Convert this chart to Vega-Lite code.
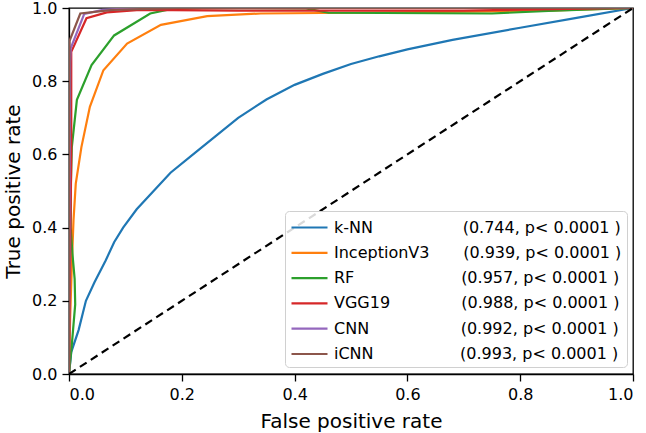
{
  "$schema": "https://vega.github.io/schema/vega-lite/v6.json",
  "autosize": "none",
  "width": 564,
  "height": 366,
  "padding": {"left": 69, "top": 8, "right": 13, "bottom": 59},
  "background": "white",
  "config": {
    "font": "DejaVu Sans",
    "view": {"stroke": "black", "strokeWidth": 1.3},
    "axis": {
      "grid": false,
      "domainColor": "black",
      "domainWidth": 1.3,
      "tickColor": "black",
      "tickWidth": 1.3,
      "tickSize": 7,
      "labelFont": "DejaVu Sans",
      "labelFontSize": 16,
      "labelColor": "black",
      "labelPadding": 5,
      "titleFont": "DejaVu Sans",
      "titleFontSize": 20,
      "titleFontWeight": "normal",
      "titleColor": "black"
    }
  },
  "datasets": {
    "roc": [
      {"model": "k-NN", "i": 0, "fpr": 0, "tpr": 0},
      {"model": "k-NN", "i": 1, "fpr": 0.004, "tpr": 0.06},
      {"model": "k-NN", "i": 2, "fpr": 0.017, "tpr": 0.12},
      {"model": "k-NN", "i": 3, "fpr": 0.03, "tpr": 0.2},
      {"model": "k-NN", "i": 4, "fpr": 0.045, "tpr": 0.25},
      {"model": "k-NN", "i": 5, "fpr": 0.065, "tpr": 0.31},
      {"model": "k-NN", "i": 6, "fpr": 0.08, "tpr": 0.36},
      {"model": "k-NN", "i": 7, "fpr": 0.096, "tpr": 0.4},
      {"model": "k-NN", "i": 8, "fpr": 0.12, "tpr": 0.45},
      {"model": "k-NN", "i": 9, "fpr": 0.15, "tpr": 0.5},
      {"model": "k-NN", "i": 10, "fpr": 0.18, "tpr": 0.55},
      {"model": "k-NN", "i": 11, "fpr": 0.22, "tpr": 0.6},
      {"model": "k-NN", "i": 12, "fpr": 0.26, "tpr": 0.65},
      {"model": "k-NN", "i": 13, "fpr": 0.3, "tpr": 0.7},
      {"model": "k-NN", "i": 14, "fpr": 0.35, "tpr": 0.75},
      {"model": "k-NN", "i": 15, "fpr": 0.4, "tpr": 0.79},
      {"model": "k-NN", "i": 16, "fpr": 0.45, "tpr": 0.82},
      {"model": "k-NN", "i": 17, "fpr": 0.5, "tpr": 0.847},
      {"model": "k-NN", "i": 18, "fpr": 0.55, "tpr": 0.868},
      {"model": "k-NN", "i": 19, "fpr": 0.6, "tpr": 0.887},
      {"model": "k-NN", "i": 20, "fpr": 0.68, "tpr": 0.913},
      {"model": "k-NN", "i": 21, "fpr": 0.8, "tpr": 0.946},
      {"model": "k-NN", "i": 22, "fpr": 0.9, "tpr": 0.973},
      {"model": "k-NN", "i": 23, "fpr": 1, "tpr": 1},

      {"model": "InceptionV3", "i": 0, "fpr": 0, "tpr": 0},
      {"model": "InceptionV3", "i": 1, "fpr": 0.002, "tpr": 0.15},
      {"model": "InceptionV3", "i": 2, "fpr": 0.005, "tpr": 0.3},
      {"model": "InceptionV3", "i": 3, "fpr": 0.008, "tpr": 0.42},
      {"model": "InceptionV3", "i": 4, "fpr": 0.012, "tpr": 0.52},
      {"model": "InceptionV3", "i": 5, "fpr": 0.022, "tpr": 0.62},
      {"model": "InceptionV3", "i": 6, "fpr": 0.037, "tpr": 0.73},
      {"model": "InceptionV3", "i": 7, "fpr": 0.061, "tpr": 0.83},
      {"model": "InceptionV3", "i": 8, "fpr": 0.103, "tpr": 0.903},
      {"model": "InceptionV3", "i": 9, "fpr": 0.163, "tpr": 0.954},
      {"model": "InceptionV3", "i": 10, "fpr": 0.245, "tpr": 0.978},
      {"model": "InceptionV3", "i": 11, "fpr": 0.34, "tpr": 0.985},
      {"model": "InceptionV3", "i": 12, "fpr": 0.5, "tpr": 0.987},
      {"model": "InceptionV3", "i": 13, "fpr": 0.7, "tpr": 0.99},
      {"model": "InceptionV3", "i": 14, "fpr": 0.85, "tpr": 0.993},
      {"model": "InceptionV3", "i": 15, "fpr": 1, "tpr": 1},

      {"model": "RF", "i": 0, "fpr": 0, "tpr": 0},
      {"model": "RF", "i": 1, "fpr": 0.005, "tpr": 0.08},
      {"model": "RF", "i": 2, "fpr": 0.011, "tpr": 0.19},
      {"model": "RF", "i": 3, "fpr": 0.01, "tpr": 0.26},
      {"model": "RF", "i": 4, "fpr": 0.006, "tpr": 0.33},
      {"model": "RF", "i": 5, "fpr": 0.003, "tpr": 0.4},
      {"model": "RF", "i": 6, "fpr": 0.003, "tpr": 0.5},
      {"model": "RF", "i": 7, "fpr": 0.005, "tpr": 0.62},
      {"model": "RF", "i": 8, "fpr": 0.014, "tpr": 0.749},
      {"model": "RF", "i": 9, "fpr": 0.04, "tpr": 0.844},
      {"model": "RF", "i": 10, "fpr": 0.08, "tpr": 0.925},
      {"model": "RF", "i": 11, "fpr": 0.144, "tpr": 0.985},
      {"model": "RF", "i": 12, "fpr": 0.18, "tpr": 0.997},
      {"model": "RF", "i": 13, "fpr": 0.25, "tpr": 1.0},
      {"model": "RF", "i": 14, "fpr": 0.42, "tpr": 0.999},
      {"model": "RF", "i": 15, "fpr": 0.46, "tpr": 0.987},
      {"model": "RF", "i": 16, "fpr": 0.75, "tpr": 0.985},
      {"model": "RF", "i": 17, "fpr": 0.85, "tpr": 0.992},
      {"model": "RF", "i": 18, "fpr": 1, "tpr": 1},

      {"model": "VGG19", "i": 0, "fpr": 0, "tpr": 0},
      {"model": "VGG19", "i": 1, "fpr": 0.002, "tpr": 0.3},
      {"model": "VGG19", "i": 2, "fpr": 0.004, "tpr": 0.6},
      {"model": "VGG19", "i": 3, "fpr": 0.004, "tpr": 0.88},
      {"model": "VGG19", "i": 4, "fpr": 0.031, "tpr": 0.972},
      {"model": "VGG19", "i": 5, "fpr": 0.067, "tpr": 0.988},
      {"model": "VGG19", "i": 6, "fpr": 0.126, "tpr": 0.995},
      {"model": "VGG19", "i": 7, "fpr": 0.3, "tpr": 0.993},
      {"model": "VGG19", "i": 8, "fpr": 0.7, "tpr": 0.993},
      {"model": "VGG19", "i": 9, "fpr": 1, "tpr": 1},

      {"model": "CNN", "i": 0, "fpr": 0, "tpr": 0},
      {"model": "CNN", "i": 1, "fpr": 0.001, "tpr": 0.5},
      {"model": "CNN", "i": 2, "fpr": 0.002, "tpr": 0.85},
      {"model": "CNN", "i": 3, "fpr": 0.003, "tpr": 0.89},
      {"model": "CNN", "i": 4, "fpr": 0.027, "tpr": 0.984},
      {"model": "CNN", "i": 5, "fpr": 0.06, "tpr": 0.995},
      {"model": "CNN", "i": 6, "fpr": 0.12, "tpr": 1.0},
      {"model": "CNN", "i": 7, "fpr": 1, "tpr": 1},

      {"model": "iCNN", "i": 0, "fpr": 0, "tpr": 0},
      {"model": "iCNN", "i": 1, "fpr": 0, "tpr": 0.5},
      {"model": "iCNN", "i": 2, "fpr": 0.001, "tpr": 0.91},
      {"model": "iCNN", "i": 3, "fpr": 0.02, "tpr": 0.985},
      {"model": "iCNN", "i": 4, "fpr": 0.078, "tpr": 0.995},
      {"model": "iCNN", "i": 5, "fpr": 0.2, "tpr": 1.0},
      {"model": "iCNN", "i": 6, "fpr": 1, "tpr": 1}
    ],
    "diag": [
      {"fpr": 0, "tpr": 0},
      {"fpr": 1, "tpr": 1}
    ]
  },
  "layer": [
    {
      "data": {"name": "roc"},
      "mark": {"type": "line", "strokeWidth": 2.2, "clip": true},
      "encoding": {
        "x": {
          "field": "fpr", "type": "quantitative",
          "title": "False positive rate",
          "scale": {"domain": [0, 1], "nice": false, "zero": false},
          "axis": {"values": [0, 0.2, 0.4, 0.6, 0.8, 1.0], "format": ".1f", "titlePadding": 9}
        },
        "y": {
          "field": "tpr", "type": "quantitative",
          "title": "True positive rate",
          "scale": {"domain": [0, 1], "nice": false, "zero": false},
          "axis": {"values": [0, 0.2, 0.4, 0.6, 0.8, 1.0], "format": ".1f", "titlePadding": 8}
        },
        "order": {"field": "i", "type": "quantitative"},
        "color": {
          "field": "model", "type": "nominal",
          "scale": {
            "domain": ["k-NN", "InceptionV3", "RF", "VGG19", "CNN", "iCNN"],
            "range": ["#1f77b4", "#ff7f0e", "#2ca02c", "#d62728", "#9467bd", "#8c564b"]
          },
          "legend": {
            "orient": "none",
            "legendX": 216,
            "legendY": 203,
            "title": null,
            "symbolType": "M-1,0H2.6",
            "symbolSize": 400,
            "symbolStrokeWidth": 2.2,
            "labelFont": "DejaVu Sans",
            "labelFontSize": 16,
            "labelColor": "black",
            "labelOffset": 21,
            "labelLimit": 500,
            "padding": 5,
            "rowPadding": 5.3,
            "fillColor": "rgba(255,255,255,0.85)",
            "strokeColor": "#d0d0d0",
            "cornerRadius": 4,
            "labelExpr": "datum.label == 'k-NN' ? 'k-NN' + pad('', 17, '\u00a0') + '\u2009(0.744, p< 0.0001 )' : datum.label == 'InceptionV3' ? 'InceptionV3' + pad('', 6, '\u00a0') + '\u2009(0.939, p< 0.0001 )' : datum.label == 'RF' ? 'RF' + pad('', 21, '\u00a0') + '(0.957, p< 0.0001 )' : datum.label == 'VGG19' ? 'VGG19' + pad('', 14, '\u00a0') + '(0.988, p< 0.0001 )' : datum.label == 'CNN' ? 'CNN' + pad('', 18, '\u00a0') + '(0.992, p< 0.0001 )' : 'iCNN' + pad('', 17, '\u00a0') + '(0.993, p< 0.0001 )'"
          }
        }
      }
    },
    {
      "data": {"name": "diag"},
      "mark": {"type": "line", "color": "black", "strokeWidth": 2.2, "strokeDash": [8, 5], "clip": true},
      "encoding": {
        "x": {"field": "fpr", "type": "quantitative"},
        "y": {"field": "tpr", "type": "quantitative"}
      }
    }
  ]
}
